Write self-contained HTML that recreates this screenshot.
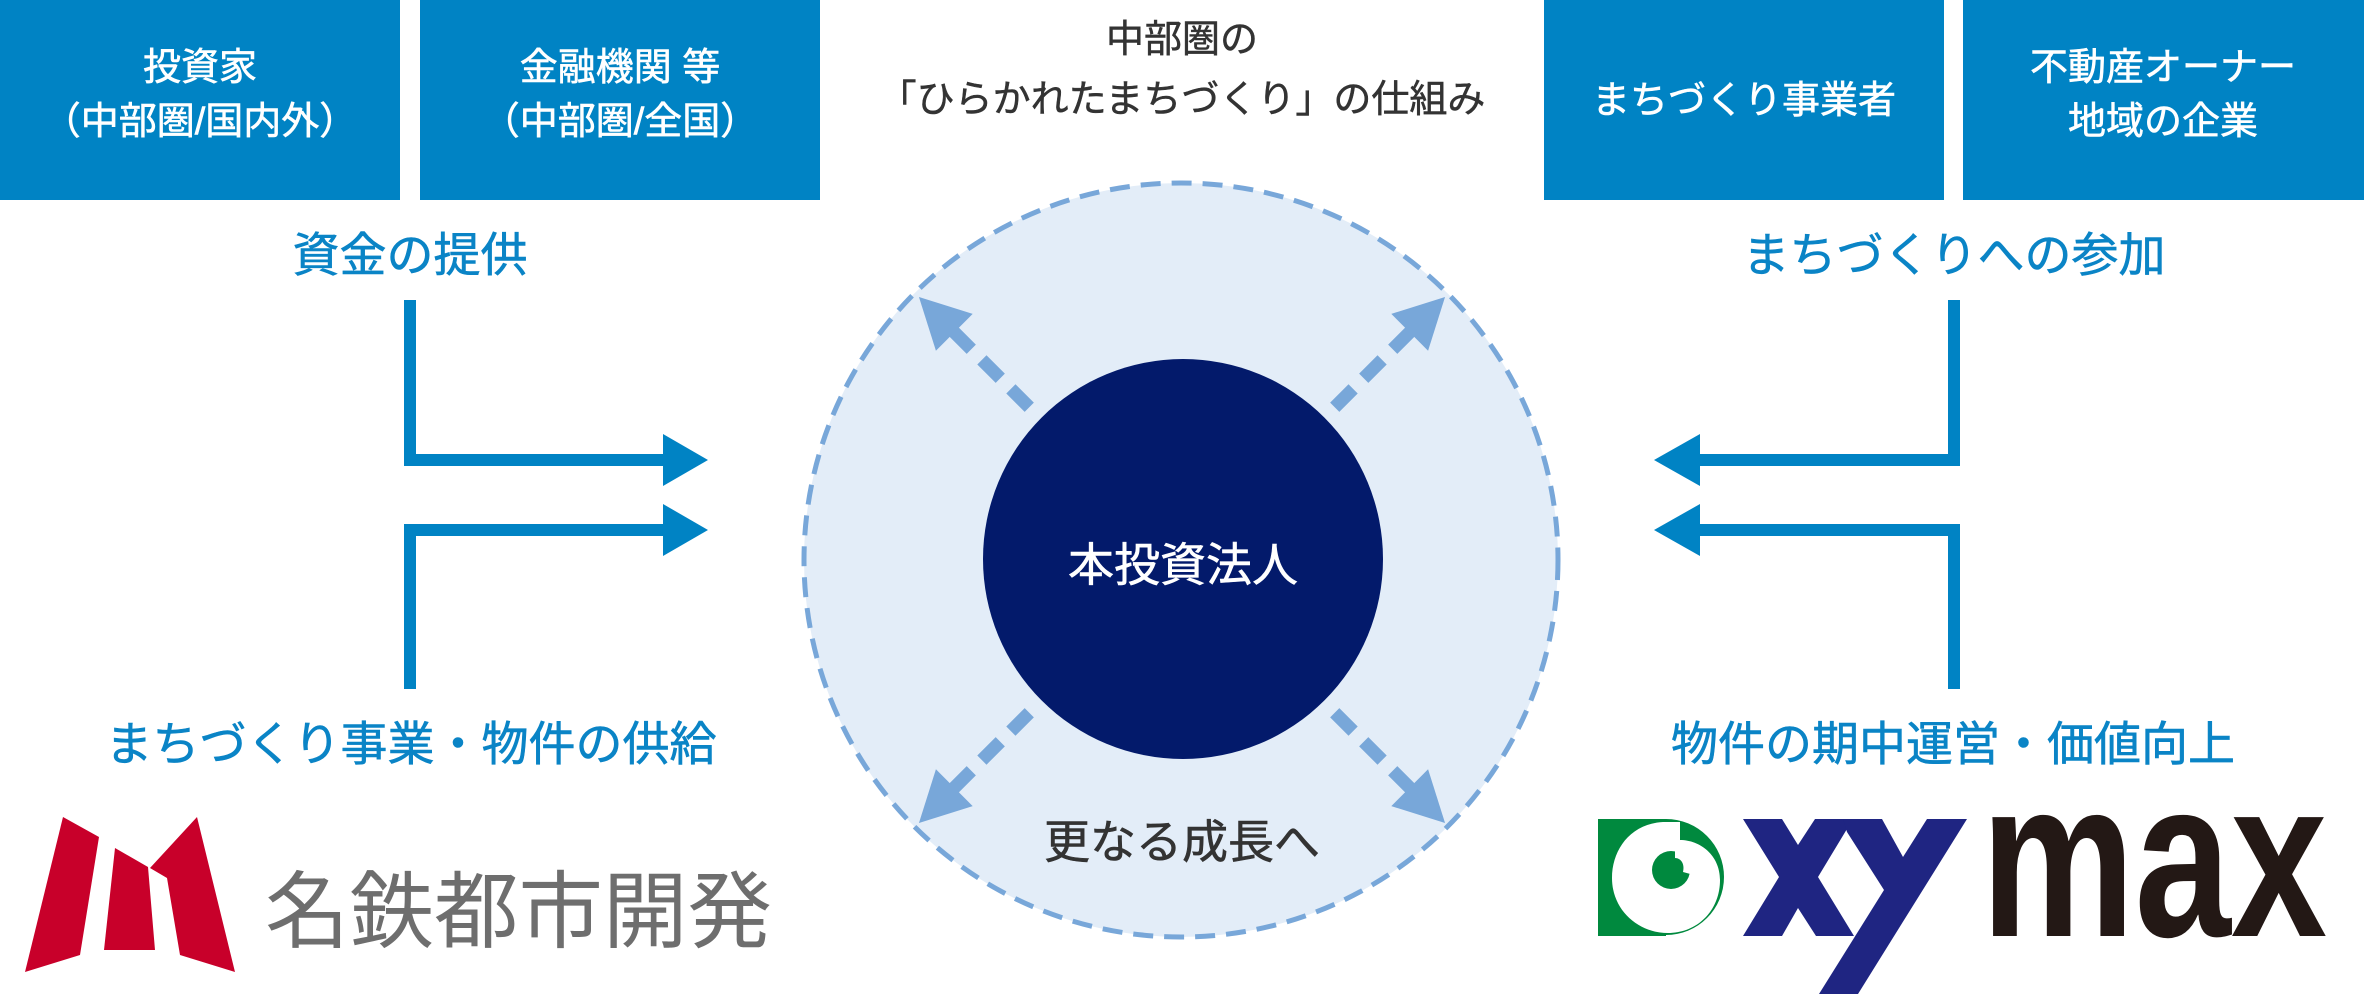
<!DOCTYPE html>
<html><head><meta charset="utf-8"><style>
html,body{margin:0;padding:0;background:#fff;width:2364px;height:1000px;overflow:hidden}
svg{display:block}
text{font-family:"Liberation Sans","Noto Sans CJK JP",sans-serif}
</style></head><body>
<svg width="2364" height="1000" viewBox="0 0 2364 1000" xmlns="http://www.w3.org/2000/svg">
<defs>
<g id="darr">
<line x1="216" y1="0" x2="328" y2="0" stroke="#78a7d9" stroke-width="13" stroke-dasharray="26,15"/>
<polygon points="372,0 322,-26 322,26" fill="#78a7d9"/>
</g>
</defs>
<rect x="0" y="0" width="400" height="200" fill="#0083c4"/>
<rect x="420" y="0" width="400" height="200" fill="#0083c4"/>
<rect x="1544" y="0" width="400" height="200" fill="#0083c4"/>
<rect x="1963" y="0" width="401" height="200" fill="#0083c4"/>
<g fill="#fff" font-size="38" text-anchor="middle" dominant-baseline="central" stroke="#fff" stroke-width="0.6">
<text x="200" y="68">投資家</text>
<text x="200" y="122">（中部圏/国内外）</text>
<text x="620" y="68">金融機関 等</text>
<text x="620" y="122">（中部圏/全国）</text>
<text x="1744" y="101">まちづくり事業者</text>
<text x="2163" y="68">不動産オーナー</text>
<text x="2163" y="122">地域の企業</text>
</g>
<g fill="#333" font-size="38" text-anchor="middle" dominant-baseline="central" stroke="#333" stroke-width="0.5">
<text x="1182" y="40">中部圏の</text>
<text x="1182" y="100">「ひらかれたまちづくり」の仕組み</text>
</g>
<circle cx="1181" cy="560" r="377" fill="#e3edf8" stroke="#78a7d9" stroke-width="5" stroke-dasharray="20,11"/>
<g transform="translate(1182,560)">
<use href="#darr" transform="rotate(-135)"/>
<use href="#darr" transform="rotate(-45)"/>
<use href="#darr" transform="rotate(135)"/>
<use href="#darr" transform="rotate(45)"/>
</g>
<circle cx="1183" cy="559" r="200" fill="#031a6b"/>
<text x="1183" y="565" fill="#fff" font-size="46" text-anchor="middle" dominant-baseline="central" stroke="#fff" stroke-width="0.6">本投資法人</text>
<text x="1182" y="842" fill="#333" font-size="46" text-anchor="middle" dominant-baseline="central" stroke="#333" stroke-width="0.6">更なる成長へ</text>
<g fill="#0a84c6" font-size="47" text-anchor="middle" dominant-baseline="central" stroke="#0a84c6" stroke-width="0.6">
<text x="410" y="255">資金の提供</text>
<text x="411" y="744">まちづくり事業・物件の供給</text>
<text x="1954" y="255">まちづくりへの参加</text>
<text x="1953" y="744">物件の期中運営・価値向上</text>
</g>
<g fill="none" stroke="#0083c4" stroke-width="12">
<polyline points="410,300 410,460 665,460"/>
<polyline points="410,689 410,530 665,530"/>
<polyline points="1954,300 1954,460 1698,460"/>
<polyline points="1954,689 1954,530 1698,530"/>
</g>
<g fill="#0083c4">
<polygon points="708,460 663,434 663,486"/>
<polygon points="708,530 663,504 663,556"/>
<polygon points="1654,460 1700,434 1700,486"/>
<polygon points="1654,530 1700,504 1700,556"/>
</g>
<g fill="#c8002a">
<polygon points="63,817 99,837 80,955 25,972"/>
<polygon points="115,848 148,867 155,950 104,950"/>
<polygon points="150,868 197,817 235,972 180,955 167,878"/>
</g>
<text x="265" y="912" fill="#6e6e6e" font-size="84" textLength="507" lengthAdjust="spacingAndGlyphs" dominant-baseline="central">名鉄都市開発</text>
<circle cx="1666" cy="877" r="58" fill="#00893e"/>
<rect x="1598" y="819" width="68" height="117" fill="#00893e"/>
<path d="M1663,822 C1630,824 1612,850 1612,878 C1612,910 1638,933 1668,933 C1698,933 1720,910 1720,880 C1720,855 1700,840 1680,840 L1680,822 Z" fill="#fff"/>
<circle cx="1671" cy="870" r="19" fill="#00893e"/>
<path d="M1675,851 C1690,851 1698,862 1694,875 L1683,872 C1685,864 1681,858 1675,858 Z" fill="#fff"/>
<g fill="#1f2582">
<polygon points="1743,819 1782,819 1798,845 1815,819 1853,819 1818,877 1854,936 1816,936 1798,908 1782,936 1743,936 1779,877"/>
<polygon points="1843,819 1882,819 1903,857 1927,819 1967,819 1858,994 1819,994 1884,890 1847,832"/>
</g>
<text x="1981" y="936" fill="#231815" font-size="225" font-weight="bold" textLength="346" lengthAdjust="spacingAndGlyphs">max</text>
</svg>
</body></html>
